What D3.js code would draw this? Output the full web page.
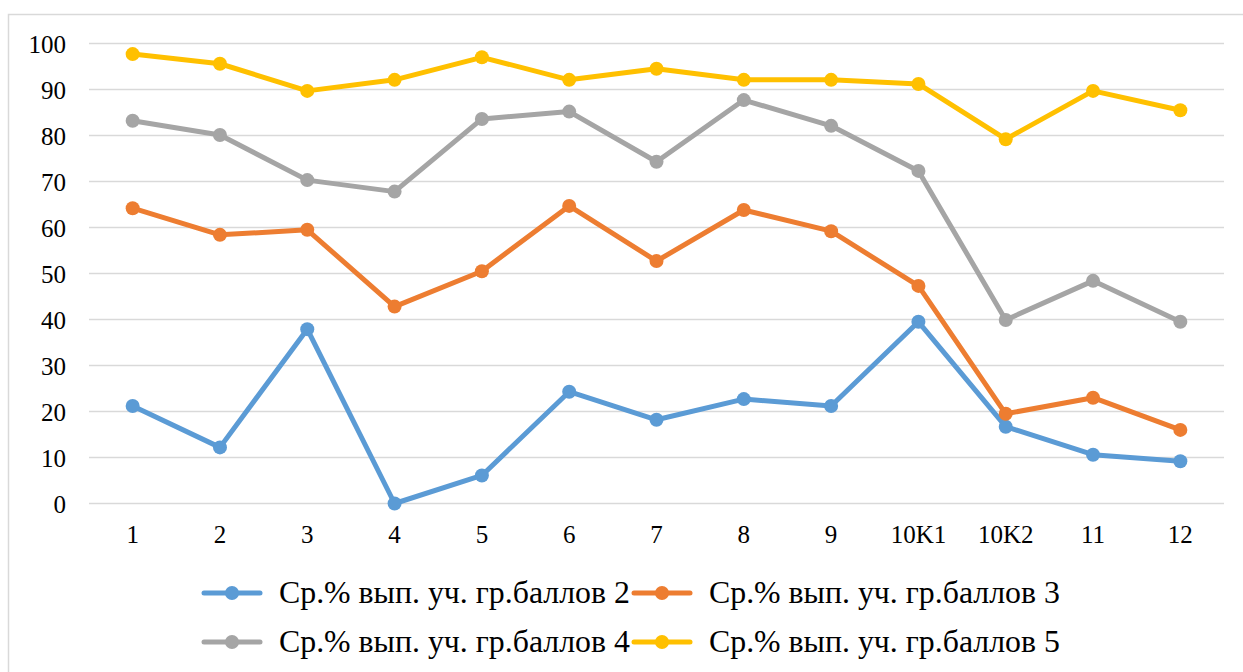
<!DOCTYPE html>
<html><head><meta charset="utf-8">
<script src="https://cdn.jsdelivr.net/npm/d3@7"></script>
</head><body style="margin:0">
<svg id="c" width="1243" height="672" font-family="Liberation Serif"></svg>
<script>
const categories = ["1","2","3","4","5","6","7","8","9","10K1","10K2","11","12"];
const yTicks = [0,10,20,30,40,50,60,70,80,90,100];
const series2 = [21.2,12.2,37.9,0,6.1,24.3,18.2,22.7,21.2,39.5,16.7,10.6,9.2];
const series3 = [64.2,58.4,59.5,42.8,50.5,64.7,52.7,63.8,59.2,47.3,19.5,23.0,16.0];
const series4 = [83.2,80.1,70.3,67.8,83.6,85.2,74.3,87.7,82.1,72.3,39.9,48.4,39.5];
const series5 = [97.7,95.6,89.7,92.1,97.0,92.1,94.5,92.1,92.1,91.2,79.2,89.7,85.5];
const seriesNames = ["Ср.% вып. уч. гр.баллов 2","Ср.% вып. уч. гр.баллов 3","Ср.% вып. уч. гр.баллов 4","Ср.% вып. уч. гр.баллов 5"];
const colors = ["#5B9BD5","#ED7D31","#A5A5A5","#FFC000"];
const allSeries = [series2,series3,series4,series5];

const FONT = "Liberation Serif";
const svg = d3.select("#c");
// frame
svg.append("rect").attr("x",8.5).attr("y",14.5).attr("width",1250).attr("height",700)
  .attr("fill","none").attr("stroke","#D9D9D9").attr("stroke-width",1.5);

const x = d3.scaleBand().domain(categories).range([89,1224]);
const y = d3.scaleLinear().domain([0,100]).range([503.5,43.5]);

// gridlines
svg.append("g").selectAll("line").data(yTicks).join("line")
  .attr("x1",89).attr("x2",1224).attr("y1",d=>y(d)).attr("y2",d=>y(d))
  .attr("stroke","#D9D9D9").attr("stroke-width",1.5);

function styleText(sel, size){
  sel.attr("font-family",FONT).attr("font-size",size)
     .style("font-family",'"'+FONT+'"').style("font-size",size+"px").attr("fill","#000");
}

// y axis labels
const yAxis = d3.axisLeft(y).tickValues(yTicks).tickSize(0).tickPadding(0);
const ga = svg.append("g").attr("transform","translate(66,0)").call(yAxis);
ga.attr("font-family",FONT).attr("font-size",25);
ga.select(".domain").remove();
ga.selectAll("text").attr("dy","0.36em").call(styleText,25);

// x axis labels
const xAxis = d3.axisBottom(x).tickSize(0).tickPadding(0);
const gx = svg.append("g").attr("transform","translate(0,543)").call(xAxis);
gx.attr("font-family",FONT).attr("font-size",25);
gx.select(".domain").remove();
gx.selectAll("text").attr("y",0).attr("dy",null).call(styleText,25);

const cx = d => x(d) + x.bandwidth()/2;
const line = d3.line().x((d,i)=>cx(categories[i])).y(d=>y(d));

allSeries.forEach((s,k)=>{
  svg.append("path").datum(s).attr("d",line).attr("fill","none")
    .attr("stroke",colors[k]).attr("stroke-width",5).attr("stroke-linejoin","round");
  svg.append("g").selectAll("circle").data(s).join("circle")
    .attr("cx",(d,i)=>cx(categories[i])).attr("cy",d=>y(d)).attr("r",7).attr("fill",colors[k]);
});

// legend
const legPos = [[204,593],[634,593],[204,642],[634,642]];
seriesNames.forEach((n,k)=>{
  const [lx,ly] = legPos[k];
  const g = svg.append("g");
  g.append("line").attr("x1",lx).attr("x2",lx+56).attr("y1",ly).attr("y2",ly)
    .attr("stroke",colors[k]).attr("stroke-width",5).attr("stroke-linecap","round");
  g.append("circle").attr("cx",lx+28).attr("cy",ly).attr("r",7).attr("fill",colors[k]);
  const t = g.append("text").attr("x",lx+75).attr("y",ly+10).call(styleText,30).text(n);
  const w = t.node().getComputedTextLength();
  const fs = Math.min(32, 30*351/w);
  t.style("font-size",fs.toFixed(2)+"px").attr("font-size",fs.toFixed(2));
});
</script>
</body></html>
